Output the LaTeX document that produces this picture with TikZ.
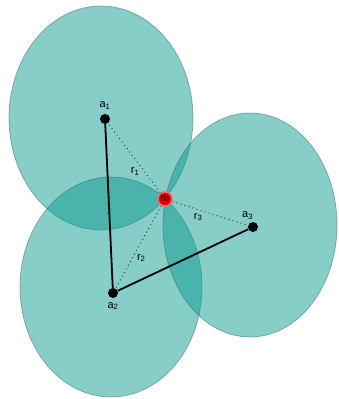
\documentclass[tikz,border=0pt]{standalone}
\usepackage{fontspec}
\setmainfont{Liberation Sans}
\usetikzlibrary{positioning}
\definecolor{zonefill}{RGB}{15,155,145}
\definecolor{zoneedge}{RGB}{50,100,100}
\definecolor{rangecol}{RGB}{45,75,75}
\tikzset{
  zone/.style={fill=zonefill, fill opacity=0.5, draw=zoneedge, draw opacity=0.5, line width=0.7pt},
  anchorpt/.style={circle, fill=black, inner sep=0pt, minimum size=10pt},
  mobile/.style={circle, fill=red!90!black, draw=red!60, line width=1.5pt,
    inner sep=0pt, minimum size=14pt, font=\fontsize{10}{10}\selectfont},
  side/.style={black, line width=1.8pt},
  rangeline/.style={draw=rangecol, line width=1.4pt, line cap=round,
    dash pattern=on 0pt off 4.2pt},
  lbl/.style={font=\fontsize{11}{11}\selectfont, inner sep=1pt},
}
\begin{document}
\begin{tikzpicture}[x=1pt, y=-1pt]
  \useasboundingbox (0,0) rectangle (338,399);

  % coverage areas
  \draw[zone] (101,118) ellipse [x radius=92pt, y radius=112pt];
  \draw[zone] (111,287) ellipse [x radius=91pt, y radius=110pt];
  \draw[zone] (250,225) ellipse [x radius=87pt, y radius=112pt];

  % anchors and mobile
  \node[anchorpt] (a1) at (105,119) {};
  \node[anchorpt] (a2) at (113,293) {};
  \node[anchorpt] (a3) at (253,227) {};
  \coordinate (m0) at (165,199);

  \draw[side] (a1) -- (a2) -- (a3) -- cycle;
  \draw[rangeline] (m0) -- (a1) node[lbl, pos=0.42, below left=-1pt and 0pt] (r1) {r\textsubscript{1}};
  \draw[rangeline] (m0) -- (a2) node[lbl, pos=0.66, right=3pt] (r2) {r\textsubscript{2}};
  \draw[rangeline] (m0) -- (a3) node[lbl, pos=0.4, below=2pt] (r3) {r\textsubscript{3}};

  \node[mobile] (m) at (m0) {m};

  \node[lbl, above=3pt of a1] {a\textsubscript{1}};
  \node[lbl, below=3pt of a2] {a\textsubscript{2}};
  \node[lbl, above left=3pt and -5pt of a3] {a\textsubscript{3}};
\end{tikzpicture}
\end{document}
